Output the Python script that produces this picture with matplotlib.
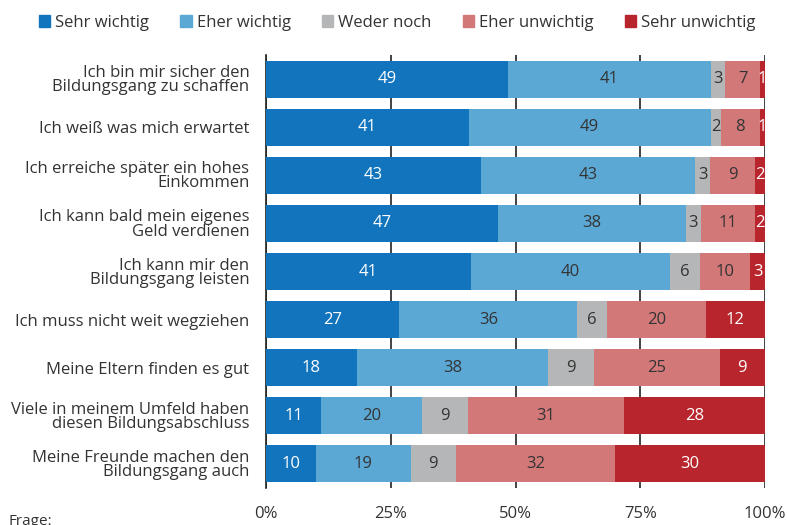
import matplotlib.pyplot as plt
import numpy as np

plt.rcParams['font.family'] = ['Open Sans', 'DejaVu Sans']

items = [
    "Ich bin mir sicher den\nBildungsgang zu schaffen",
    "Ich weiß was mich erwartet",
    "Ich erreiche später ein hohes\nEinkommen",
    "Ich kann bald mein eigenes\nGeld verdienen",
    "Ich kann mir den\nBildungsgang leisten",
    "Ich muss nicht weit wegziehen",
    "Meine Eltern finden es gut",
    "Viele in meinem Umfeld haben\ndiesen Bildungsabschluss",
    "Meine Freunde machen den\nBildungsgang auch",
]
categories = ["Sehr wichtig", "Eher wichtig", "Weder noch", "Eher unwichtig", "Sehr unwichtig"]
sehr_wichtig = [49, 41, 43, 47, 41, 27, 18, 11, 10]
eher_wichtig = [41, 49, 43, 38, 40, 36, 38, 20, 19]
weder_noch = [3, 2, 3, 3, 6, 6, 9, 9, 9]
eher_unwichtig = [7, 8, 9, 11, 10, 20, 25, 31, 32]
sehr_unwichtig = [1, 1, 2, 2, 3, 12, 9, 28, 30]
ticks = [0, 25, 50, 75, 100]
tick_labels = ["0%", "25%", "50%", "75%", "100%"]

colors = ["#1274bd", "#5ba8d5", "#b4b6b7", "#d27879", "#b9252c"]
text_colors = ["white", "#333333", "#333333", "#333333", "white"]

series = np.array([sehr_wichtig, eher_wichtig, weder_noch, eher_unwichtig, sehr_unwichtig], dtype=float)
shares = series / series.sum(axis=0) * 100

fig = plt.figure(figsize=(7.87, 5.25), dpi=100)
ax = fig.add_axes([266 / 787, 1 - 488 / 525, 499 / 787, (488 - 55) / 525])

y = np.arange(len(items))
left = np.zeros(len(items))
for k, cat in enumerate(categories):
    ax.barh(y, shares[k], left=left, height=0.77, color=colors[k], label=cat, zorder=3)
    for i in range(len(items)):
        ax.text(left[i] + shares[k][i] / 2, y[i], str(int(series[k][i])),
                ha='center', va='center', fontsize=12, color=text_colors[k], zorder=4)
    left += shares[k]

ax.set_ylim(len(items) - 0.5, -0.5)
ax.set_xlim(0, 100)
ax.set_yticks(y)
ax.set_yticklabels(items, fontsize=12, color="#333333", linespacing=0.85)
ax.tick_params(axis='y', length=0, pad=12)
ax.set_xticks(ticks)
ax.set_xticklabels(tick_labels, fontsize=12, color="#333333")
ax.tick_params(axis='x', length=0, pad=13)
ax.xaxis.grid(True, color="#222222", linewidth=1.2, zorder=0)
for s in ['top', 'right', 'bottom']:
    ax.spines[s].set_visible(False)
ax.spines['left'].set_color("#222222")
ax.spines['left'].set_linewidth(1.2)

handles = [plt.Rectangle((0, 0), 1, 1, color=c) for c in colors]
fig.legend(handles, categories, loc='upper left', bbox_to_anchor=(0.03, 1.0), ncol=5,
           frameon=False, fontsize=12, handlelength=0.7, handleheight=0.7,
           handletextpad=0.3, columnspacing=1.85, labelcolor="#333333")

fig.text(8 / 787, 1 - 514 / 525, "Frage:", fontsize=11, color="#333333", va='top')

fig.savefig("out.png", dpi=100)
